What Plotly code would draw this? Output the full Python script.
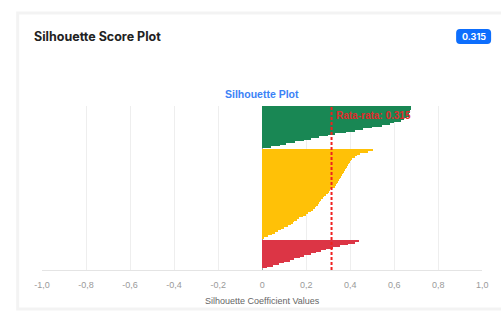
import plotly.graph_objects as go

# ---- data ----
cluster_names = ["Cluster 0", "Cluster 1", "Cluster 2"]
cluster_colors = ["#198754", "#ffc107", "#dc3545"]

green_values = [0.675, 0.675, 0.672, 0.670, 0.668, 0.665, 0.660, 0.645, 0.630, 0.600,
                0.580, 0.545, 0.500, 0.460, 0.420, 0.380, 0.330, 0.300, 0.260, 0.220,
                0.190, 0.150, 0.110, 0.080, 0.040]
yellow_values = [0.505, 0.480, 0.445, 0.430, 0.420, 0.410, 0.405, 0.400, 0.395, 0.390,
                 0.385, 0.380, 0.376, 0.372, 0.368, 0.363, 0.358, 0.352, 0.348, 0.343,
                 0.338, 0.334, 0.330, 0.312, 0.306, 0.302, 0.298, 0.292, 0.283, 0.274,
                 0.268, 0.263, 0.259, 0.253, 0.246, 0.239, 0.230, 0.220, 0.210, 0.198,
                 0.185, 0.168, 0.156, 0.145, 0.138, 0.130, 0.117, 0.100, 0.085, 0.072,
                 0.060, 0.045, 0.028, 0.010]
red_values = [0.440, 0.420, 0.390, 0.355, 0.320, 0.290, 0.265, 0.245, 0.220, 0.190,
              0.170, 0.145, 0.125, 0.100, 0.075, 0.050, 0.020]

average_score = 0.315
tick_values = [-1.0, -0.8, -0.6, -0.4, -0.2, 0.0, 0.2, 0.4, 0.6, 0.8, 1.0]
tick_labels = ["-1,0", "-0,8", "-0,6", "-0,4", "-0,2", "0", "0,2", "0,4", "0,6", "0,8", "1,0"]

W, H = 501, 313

fig = go.Figure()

pos = 1
for name, color, vals in zip(cluster_names, cluster_colors, [green_values, yellow_values, red_values]):
    ys = list(range(pos, pos + len(vals)))
    fig.add_trace(go.Bar(
        x=vals, y=ys, orientation="h", name=name,
        marker=dict(color=color, line=dict(width=0)),
        width=0.97, showlegend=False, hoverinfo="x"))
    pos += len(vals) + 1
total = pos - 1

def px(x):
    return x / W

def py(y):
    return 1 - y / H

plot_l, plot_r, plot_t, plot_b = 35, 488, 106, 270

fig.update_layout(
    width=W, height=H, autosize=False,
    margin=dict(l=0, r=0, t=0, b=0),
    paper_bgcolor="white", plot_bgcolor="white",
    bargap=0,
    font=dict(family="Liberation Sans, Arial, sans-serif"),
    xaxis=dict(
        domain=[px(plot_l), px(plot_r)],
        range=[-1.0, 1.0],
        tickvals=tick_values, ticktext=tick_labels,
        tickfont=dict(size=9, color="#9a9a9a"),
        ticklabelstandoff=6,
        showgrid=True, gridcolor="#eeeeee", gridwidth=1,
        zeroline=True, zerolinecolor="#9e9e9e", zerolinewidth=1,
        showline=True, linecolor="#e4e4e4", linewidth=1,
        ticks="", ticklen=0,
        title=dict(text="Silhouette Coefficient Values",
                   font=dict(size=9, color="#666666"), standoff=8),
    ),
    yaxis=dict(
        domain=[py(plot_b), py(plot_t)],
        range=[total + 0.5, 0],
        showticklabels=False, showgrid=False, zeroline=False, showline=False,
    ),
)

# card outline
fig.add_shape(type="rect", xref="paper", yref="paper",
              x0=px(10), x1=px(520), y0=py(309), y1=py(13),
              line=dict(color="#f3f3f3", width=3), fillcolor="rgba(0,0,0,0)", layer="below")

# header title
fig.add_annotation(text="<b>Silhouette Score Plot</b>", xref="paper", yref="paper",
                   x=px(25), y=py(37), xanchor="left", yanchor="middle", showarrow=False,
                   font=dict(family="Inter, Roboto, sans-serif", size=12.5, color="#222222"))

# badge
bx0, bx1, by0, by1, r = 461, 497, 29, 44, 4
path = (f"M {px(bx0 + r)},{py(by0)} L {px(bx1 - r)},{py(by0)} "
        f"Q {px(bx1)},{py(by0)} {px(bx1)},{py(by0 + r)} "
        f"L {px(bx1)},{py(by1 - r)} Q {px(bx1)},{py(by1)} {px(bx1 - r)},{py(by1)} "
        f"L {px(bx0 + r)},{py(by1)} Q {px(bx0)},{py(by1)} {px(bx0)},{py(by1 - r)} "
        f"L {px(bx0)},{py(by0 + r)} Q {px(bx0)},{py(by0)} {px(bx0 + r)},{py(by0)} Z")
fig.add_shape(type="path", xref="paper", yref="paper", path=path,
              fillcolor="#0d6efd", line=dict(width=0))
fig.add_annotation(text=f"<b>{average_score}</b>", xref="paper", yref="paper",
                   x=px((bx0 + bx1) / 2), y=py((by0 + by1) / 2), xanchor="center", yanchor="middle",
                   showarrow=False, font=dict(family="Inter, Roboto, sans-serif", size=9, color="white"))

# chart title
fig.add_annotation(text="<b>Silhouette Plot</b>", xref="paper", yref="paper",
                   x=px((plot_l + plot_r) / 2), y=py(94), xanchor="center", yanchor="middle",
                   showarrow=False, font=dict(size=10.5, color="#3b82f6"))

# average line
fig.add_shape(type="line", xref="x", yref="y domain", x0=average_score, x1=average_score,
              y0=0, y1=1, line=dict(color="#f02020", width=2, dash="3px,2px"))
fig.add_annotation(text=f"<b>Rata-rata: {average_score}</b>", xref="x", yref="paper",
                   x=average_score, y=py(115), xanchor="left", yanchor="middle", xshift=2,
                   showarrow=False, font=dict(size=10, color="#e02a2a"))

fig.write_html("out.html", config={"displayModeBar": False},
               post_script="document.body.style.margin='0';document.body.style.overflow='hidden';")
